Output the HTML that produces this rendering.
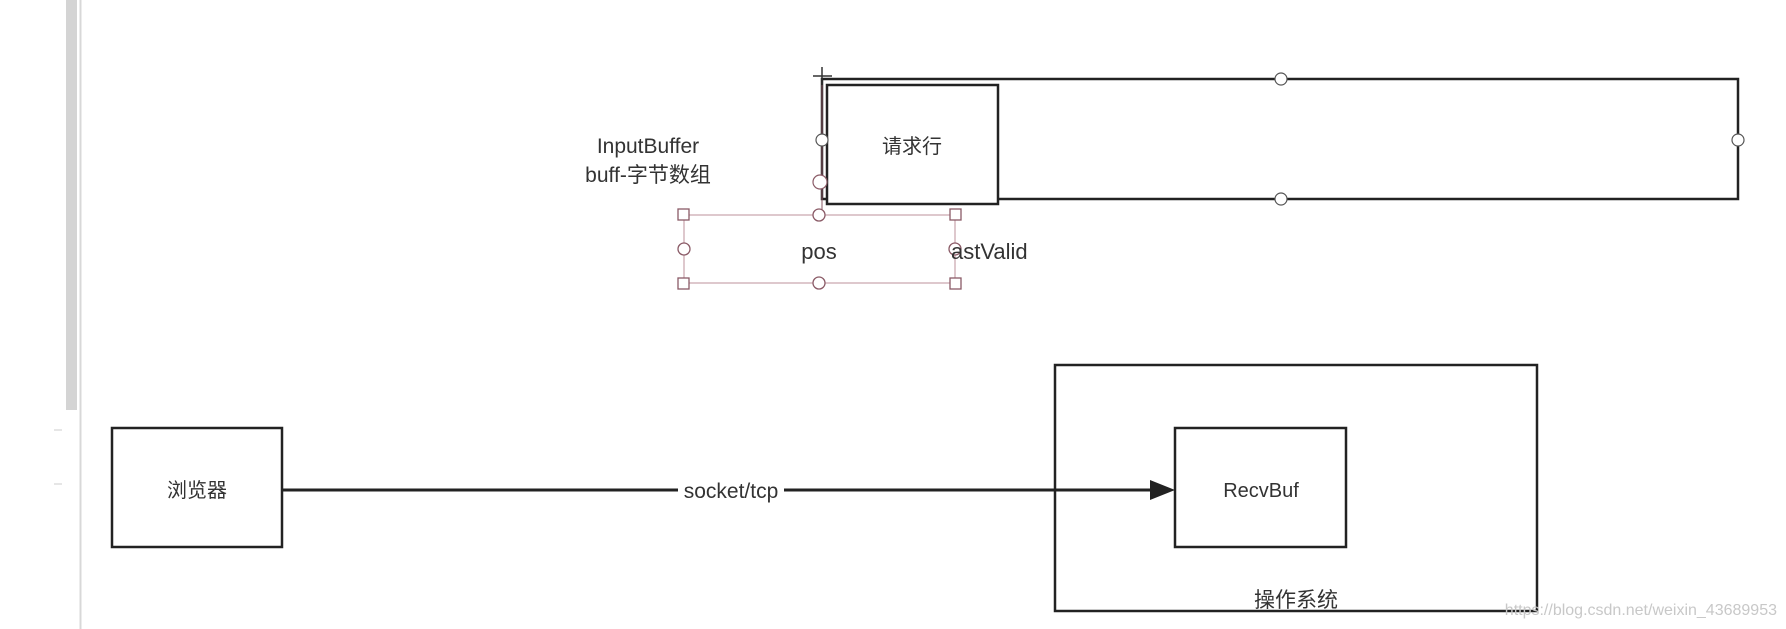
<!DOCTYPE html>
<html><head><meta charset="utf-8">
<style>
html,body{margin:0;padding:0;background:#fff;}
svg{display:block;}
text{font-family:"Liberation Sans","Noto Sans CJK SC",sans-serif;fill:#333;}
</style></head>
<body>
<svg width="1786" height="629" viewBox="0 0 1786 629" xmlns="http://www.w3.org/2000/svg">
<rect x="0" y="0" width="1786" height="629" fill="#fff"/>
<rect x="66" y="0" width="11" height="410" fill="#d4d4d4"/>
<line x1="80.5" y1="0" x2="80.5" y2="629" stroke="#d8d8d8" stroke-width="2"/>
<line x1="54" y1="430" x2="62" y2="430" stroke="#ccc"/>
<line x1="54" y1="484" x2="62" y2="484" stroke="#ccc"/>

<rect x="822" y="79" width="916" height="120" fill="none" stroke="#222" stroke-width="2.5"/>
<rect x="827" y="85" width="171" height="119" fill="#fff" stroke="#222" stroke-width="2.5"/>
<text x="912" y="153" font-size="20" text-anchor="middle">请求行</text>
<line x1="822" y1="67" x2="822" y2="85" stroke="#333" stroke-width="1.5"/>
<line x1="813" y1="76" x2="832" y2="76" stroke="#333" stroke-width="1.5"/>
<line x1="822" y1="85" x2="822" y2="215" stroke="#8a5a66" stroke-width="1"/>
<g fill="#fff" stroke="#555" stroke-width="1.2">
<circle cx="1281" cy="79" r="6"/>
<circle cx="1281" cy="199" r="6"/>
<circle cx="1738" cy="140" r="6"/>
<circle cx="822" cy="140" r="6"/>
</g>
<circle cx="820" cy="182" r="7" fill="#fff" stroke="#8a5a66" stroke-width="1.2"/>

<text x="648" y="153" font-size="21" text-anchor="middle">InputBuffer</text>
<text x="648" y="182" font-size="21" text-anchor="middle">buff-字节数组</text>

<rect x="684" y="215" width="271" height="68" fill="none" stroke="#c9a3ac" stroke-width="1.2"/>
<g fill="#fff" stroke="#8a5a66" stroke-width="1.3">
<rect x="678" y="209" width="11" height="11"/>
<rect x="950" y="209" width="11" height="11"/>
<rect x="678" y="278" width="11" height="11"/>
<rect x="950" y="278" width="11" height="11"/>
<circle cx="819" cy="215" r="6"/>
<circle cx="819" cy="283" r="6"/>
<circle cx="684" cy="249" r="6"/>
<circle cx="955" cy="249" r="6"/>
</g>
<text x="819" y="259" font-size="22" text-anchor="middle">pos</text>
<text x="951" y="259" font-size="22">astValid</text>

<rect x="112" y="428" width="170" height="119" fill="none" stroke="#222" stroke-width="2.5"/>
<text x="197" y="497" font-size="20" text-anchor="middle">浏览器</text>

<rect x="1055" y="365" width="482" height="246" fill="none" stroke="#222" stroke-width="2.5"/>
<rect x="1175" y="428" width="171" height="119" fill="none" stroke="#222" stroke-width="2.5"/>
<text x="1261" y="497" font-size="20" text-anchor="middle">RecvBuf</text>
<text x="1296" y="607" font-size="21" text-anchor="middle">操作系统</text>

<line x1="282" y1="490" x2="1152" y2="490" stroke="#222" stroke-width="3"/>
<polygon points="1150,480 1175,490 1150,500" fill="#222"/>
<rect x="678" y="478" width="106" height="24" fill="#fff"/>
<text x="731" y="498" font-size="21" text-anchor="middle">socket/tcp</text>

<text x="1777" y="615" font-size="16" text-anchor="end" style="fill:#c8c8c8">https://blog.csdn.net/weixin_43689953</text>
</svg>
</body></html>
